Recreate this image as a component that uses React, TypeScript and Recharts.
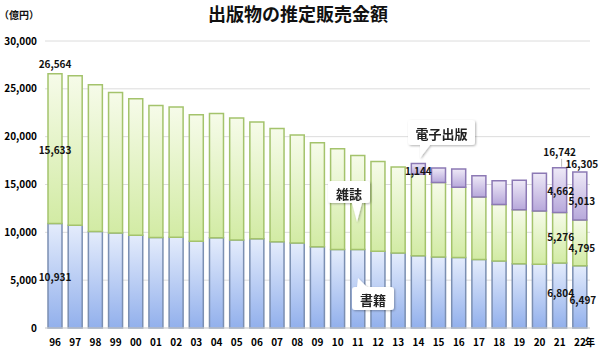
import { BarChart, Bar, XAxis, YAxis, CartesianGrid, LabelList } from 'recharts';

// 出版物の推定販売金額（億円）
const YEARS = ['96', '97', '98', '99', '00', '01', '02', '03', '04', '05', '06', '07', '08', '09', '10', '11', '12', '13', '14', '15', '16', '17', '18', '19', '20', '21', '22'];
const BOOKS = [10931, 10730, 10100, 9936, 9706, 9456, 9490, 9056, 9429, 9197, 9326, 9026, 8878, 8492, 8213, 8199, 8013, 7851, 7544, 7419, 7370, 7152, 6991, 6723, 6661, 6804, 6497];
const MAGAZINES = [15633, 15644, 15315, 14672, 14261, 13794, 13616, 13222, 12998, 12767, 12200, 11827, 11299, 10864, 10536, 9844, 9385, 8972, 8520, 7801, 7339, 6548, 5930, 5637, 5576, 5276, 4795];
const EBOOKS = [null, null, null, null, null, null, null, null, null, null, null, null, null, null, null, null, null, null, 1144, 1502, 1909, 2215, 2479, 3072, 3931, 4662, 5013];
const Y_TICKS = [0, 5000, 10000, 15000, 20000, 25000, 30000];

const data = YEARS.map((year, i) => ({
    year,
    books: BOOKS[i],
    magazines: MAGAZINES[i],
    ebooks: EBOOKS[i],
    total: BOOKS[i] + MAGAZINES[i] + (EBOOKS[i] ?? 0),
}));

const fmt = (v: number) => v.toLocaleString('en-US');
const LABEL_FONT = { fontSize: 10, fontWeight: 700, fill: '#111', fontFamily: '"Noto Sans CJK JP", "Noto Sans", sans-serif' };

// values shown inside segments: index -> [dx, dy]
const BOOK_SHOWN: Record<number, [number, number]> = { 0: [0, 1], 25: [1, -3], 26: [3, 3] };
const MAG_SHOWN: Record<number, [number, number]> = { 0: [0, 1], 25: [1, -1], 26: [2, 5] };
const EBOOK_SHOWN: Record<number, [number, number]> = { 18: [0, 2], 25: [1, 0], 26: [2, 5] };

const segLabel = (shown: Record<number, [number, number]>) => (props: any) => {
    const { x, y, width, height, index, value } = props;
    const off = shown[index];
    if (!off || value == null) return null;
    return (
        <text x={x + width / 2 + off[0]} y={y + height / 2 + off[1]} textAnchor="middle" dominantBaseline="central" {...LABEL_FONT}>
            {fmt(value)}
        </text>
    );
};

// e-book segment and total labels, placed from the magazine segment (px per unit = height / value)
const upperLabels = (props: any) => {
    const { x, y, width, height, index, value } = props;
    const d = data[index];
    if (!d) return null;
    const cx = x + width / 2;
    const k = Math.abs(height) / value;
    const eH = (d.ebooks ?? 0) * k;
    const segTop = Math.min(y, y + height);
    const top = segTop - eH;
    const out: any[] = [];
    const off = EBOOK_SHOWN[index];
    if (off && d.ebooks != null) {
        out.push(
            <text key="e" x={cx + off[0]} y={segTop - eH / 2 + off[1]} textAnchor="middle" dominantBaseline="central" {...LABEL_FONT}>
                {fmt(d.ebooks)}
            </text>
        );
    }
    if (index === 0) {
        out.push(<text key="t" x={cx} y={top - 6} textAnchor="middle" {...LABEL_FONT}>{fmt(d.total)}</text>);
    }
    if (index === 25) {
        out.push(
            <g key="t">
                <line x1={cx + 2} y1={top - 9} x2={cx + 2} y2={top - 1} stroke="#bbb" strokeWidth={1} />
                <text x={cx} y={top - 12} textAnchor="middle" {...LABEL_FONT}>{fmt(d.total)}</text>
            </g>
        );
    }
    if (index === 26) {
        out.push(<text key="t" x={cx + 2} y={top - 4} textAnchor="middle" {...LABEL_FONT}>{fmt(d.total)}</text>);
    }
    return out.length ? <g>{out}</g> : null;
};

const XTick = (props: any) => {
    const { x, y, payload, index } = props;
    const last = index === YEARS.length - 1;
    return (
        <g>
            <text x={x} y={y} dy={10} textAnchor="middle" {...LABEL_FONT} fill="#000">{payload.value}</text>
            {last && <text x={x + 5} y={y} dy={10} textAnchor="start" {...LABEL_FONT} fill="#000">年</text>}
        </g>
    );
};

function Callout({ x, y, w, h, tip, base, text }: { x: number; y: number; w: number; h: number; tip: [number, number]; base: [number, number]; text: string }) {
    return (
        <g filter="url(#callShadow)">
            <rect x={x} y={y} width={w} height={h} rx={3} fill="#fff" />
            <polygon points={`${base[0]},${base[1]} ${tip[0]},${tip[1]} ${base[0] + 10},${base[1]}`} fill="#fff" />
            <text x={x + w / 2} y={y + h / 2 + 1} textAnchor="middle" dominantBaseline="central" fontSize={13} fontWeight={700} fill="#222" fontFamily='"Noto Sans CJK JP", sans-serif'>
                {text}
            </text>
        </g>
    );
}

export default function App() {
    return (
        <div style={{ position: 'absolute', left: 0, top: 0, width: 600, height: 353, background: '#fff' }}>
            <BarChart width={600} height={353} data={data} margin={{ top: 41, right: 10, bottom: 0, left: 0 }} barSize={14}>
                <defs>
                    <linearGradient id="gBooks" x1="0" y1="0" x2="0" y2="1">
                        <stop offset="0%" stopColor="#e4ecfc" />
                        <stop offset="100%" stopColor="#92b0ec" />
                    </linearGradient>
                    <linearGradient id="gMags" x1="0" y1="0" x2="0" y2="1">
                        <stop offset="0%" stopColor="#f6fbe9" />
                        <stop offset="100%" stopColor="#d2eba4" />
                    </linearGradient>
                    <linearGradient id="gEbooks" x1="0" y1="0" x2="0" y2="1">
                        <stop offset="0%" stopColor="#eee9f7" />
                        <stop offset="100%" stopColor="#b7a8db" />
                    </linearGradient>
                </defs>
                <CartesianGrid vertical={false} stroke="#dcdcdc" />
                <XAxis dataKey="year" interval={0} tickLine={false} axisLine={{ stroke: '#d4d4d4' }} height={25} tick={<XTick />} />
                <YAxis domain={[0, 30000]} ticks={Y_TICKS} tickFormatter={fmt} tickLine={false} axisLine={false} width={45}
                    tick={{ ...LABEL_FONT, fill: '#000' }} />
                <Bar dataKey="books" stackId="a" fill="url(#gBooks)" stroke="#7b8fb2" strokeWidth={1.5} isAnimationActive={false}>
                    <LabelList dataKey="books" content={segLabel(BOOK_SHOWN)} />
                </Bar>
                <Bar dataKey="magazines" stackId="a" fill="url(#gMags)" stroke="#a4c36c" strokeWidth={1.5} isAnimationActive={false}>
                    <LabelList dataKey="magazines" content={segLabel(MAG_SHOWN)} />
                </Bar>
                <Bar dataKey="ebooks" stackId="a" fill="url(#gEbooks)" stroke="#8c79b4" strokeWidth={1.5} isAnimationActive={false} />
            </BarChart>
            {/* same scales, hidden axes: carries e-book and total labels */}
            <BarChart width={600} height={353} data={data} margin={{ top: 41, right: 10, bottom: 25, left: 45 }} barSize={14}
                style={{ position: 'absolute', left: 0, top: 0, pointerEvents: 'none' }}>
                <XAxis dataKey="year" hide />
                <YAxis domain={[0, 30000]} hide />
                <Bar dataKey="books" stackId="a" fill="none" stroke="none" isAnimationActive={false} />
                <Bar dataKey="magazines" stackId="a" fill="none" stroke="none" isAnimationActive={false}>
                    <LabelList dataKey="magazines" content={upperLabels} />
                </Bar>
            </BarChart>
            <svg width={600} height={353} style={{ position: 'absolute', left: 0, top: 0, pointerEvents: 'none' }}>
                <defs>
                    <filter id="callShadow" x="-30%" y="-30%" width="160%" height="180%">
                        <feDropShadow dx="1" dy="1" stdDeviation="1.2" floodColor="#000" floodOpacity="0.3" />
                    </filter>
                </defs>
                <text x={298} y={21} textAnchor="middle" fontSize={18} fontWeight={700} fill="#111" fontFamily='"Noto Sans CJK JP", sans-serif'>
                    出版物の推定販売金額
                </text>
                <text x={19} y={19} textAnchor="middle" fontSize={10} fontWeight={700} fill="#111" fontFamily='"Noto Sans CJK JP", sans-serif'>
                    （億円）
                </text>
                <Callout x={328} y={181} w={42} h={22} base={[352, 203]} tip={[357, 222]} text="雑誌" />
                <Callout x={408} y={120} w={67} h={25} base={[420, 145]} tip={[420, 158]} text="電子出版" />
                <Callout x={352} y={287} w={42} h={23} base={[357, 287]} tip={[358, 278]} text="書籍" />
            </svg>
        </div>
    );
}
